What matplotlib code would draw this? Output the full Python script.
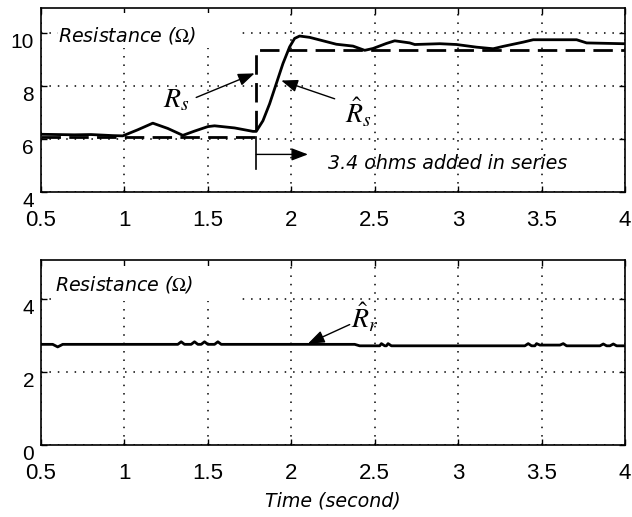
import matplotlib
matplotlib.use("Agg")
import matplotlib.pyplot as plt
from matplotlib.patches import Rectangle

plt.rcParams['font.family'] = ['Liberation Sans', 'DejaVu Sans']
plt.rcParams['mathtext.fontset'] = 'stix'

# estimated stator resistance (solid), top panel
t_est = [0.5, 0.6, 0.7, 0.8, 0.93, 0.99, 1.08, 1.17, 1.26, 1.35, 1.42, 1.5, 1.54,
         1.66, 1.77, 1.79, 1.83, 1.87, 1.91, 1.95, 1.99, 2.02, 2.05, 2.11, 2.19,
         2.27, 2.37, 2.44, 2.49, 2.57, 2.62, 2.71, 2.74, 2.89, 2.99, 3.11, 3.21,
         3.27, 3.39, 3.45, 3.71, 3.77, 3.99, 4.0]
rs_est = [6.18, 6.17, 6.16, 6.17, 6.13, 6.12, 6.35, 6.6, 6.4, 6.14, 6.3, 6.47, 6.5,
          6.42, 6.29, 6.29, 6.69, 7.33, 8.09, 8.85, 9.48, 9.80, 9.89, 9.84, 9.71,
          9.58, 9.51, 9.35, 9.42, 9.61, 9.71, 9.63, 9.57, 9.6, 9.57, 9.47, 9.41,
          9.5, 9.66, 9.75, 9.75, 9.63, 9.6, 9.6]

# actual stator resistance (dashed step)
t_act = [0.5, 1.79, 1.79, 4.0]
rs_act = [6.06, 6.06, 9.38, 9.38]

# estimated rotor resistance, bottom panel
t_rr = [0.5, 0.57, 0.6, 0.63, 1.32, 1.34, 1.36, 1.40, 1.42, 1.44, 1.46, 1.48, 1.50,
        1.54, 1.56, 1.58, 2.38, 2.41, 2.53, 2.54, 2.56, 2.57, 2.58, 2.60, 3.40,
        3.42, 3.44, 3.46, 3.47, 3.49, 3.61, 3.63, 3.65, 3.85, 3.87, 3.89, 3.91,
        3.93, 3.95, 4.0]
rr_est = [2.75, 2.75, 2.68, 2.75, 2.75, 2.82, 2.75, 2.75, 2.82, 2.75, 2.75, 2.82, 2.75,
          2.75, 2.82, 2.75, 2.75, 2.71, 2.71, 2.77, 2.71, 2.71, 2.77, 2.71, 2.71,
          2.77, 2.71, 2.71, 2.77, 2.73, 2.73, 2.77, 2.71, 2.71, 2.76, 2.71, 2.71,
          2.76, 2.71, 2.71]

xticks = [0.5, 1, 1.5, 2, 2.5, 3, 3.5, 4]
xticklabels = ['0.5', '1', '1.5', '2', '2.5', '3', '3.5', '4']
yticks_top = [4, 6, 8, 10]
yticks_bot = [0, 2, 4]

fig = plt.figure(figsize=(6.32, 5.17), dpi=100)
ax1 = fig.add_axes([0.0649, 0.6286, 0.924, 0.356])
ax2 = fig.add_axes([0.0649, 0.139, 0.924, 0.358])

for ax, yt in ((ax1, yticks_top), (ax2, yticks_bot)):
    ax.set_xlim(0.5, 4)
    ax.set_xticks(xticks)
    ax.set_xticklabels(xticklabels)
    ax.set_yticks(yt)
    ax.set_yticklabels([str(v) for v in yt])
    ax.tick_params(direction='in', top=True, right=True, length=4, width=1,
                   labelsize=15, color='k')
    ax.tick_params(axis='x', pad=13, labelsize=16)
    ax.tick_params(axis='y', pad=5)
    for lab in ax.get_yticklabels():
        lab.set_verticalalignment('top')
    for s in ax.spines.values():
        s.set_linewidth(1.2)
    ax.grid(True, color='k', linestyle=(0, (1, 4.5)), linewidth=1.1)
    ax.set_axisbelow(True)

ax1.set_ylim(4, 10.95)
ax2.set_ylim(0, 5.05)

# white patch behind the panel titles (hides grid there)
ax1.add_patch(Rectangle((0.029, 0.78), 0.307, 0.19, transform=ax1.transAxes,
                        fc='white', ec='none', zorder=1))
ax2.add_patch(Rectangle((0.019, 0.78), 0.318, 0.19, transform=ax2.transAxes,
                        fc='white', ec='none', zorder=1))

ax1.plot(t_act, rs_act, color='k', lw=2.0, dashes=(7, 3), zorder=3)
ax1.plot(t_est, rs_est, color='k', lw=2.0, zorder=4)
ax2.plot(t_rr, rr_est, color='k', lw=2.0, zorder=4)

ital = dict(family='DejaVu Sans', style='italic', fontsize=13.7, color='k', zorder=5)
ax1.text(0.6, 9.92, r'Resistance ($\Omega$)', va='center', ha='left', **ital)
ax2.text(0.585, 4.37, r'Resistance ($\Omega$)', va='center', ha='left', **ital)
ax1.text(2.22, 5.06, '3.4 ohms added in series', va='center', ha='left', **ital)
ax2.set_xlabel('Time (second)', family='DejaVu Sans', style='italic',
               fontsize=13.7, labelpad=5)

arr = dict(arrowstyle='-|>,head_length=1.0,head_width=0.38', color='k', lw=1.0,
           shrinkA=0, shrinkB=0)
ax1.annotate('', xy=(1.78, 8.48), xytext=(1.43, 7.57), arrowprops=arr, zorder=6)
ax1.text(1.31, 7.45, r'$R_s$', fontsize=20, ha='center', va='center')
ax1.annotate('', xy=(1.94, 8.21), xytext=(2.26, 7.52), arrowprops=arr, zorder=6)
ax1.text(2.40, 7.0, r'$\hat{R}_s$', fontsize=20, ha='center', va='center')

# marker for the step instant
ax1.plot([1.79, 1.79], [4.86, 6.06], color='k', lw=1.2)
ax1.annotate('', xy=(2.1, 5.42), xytext=(1.79, 5.42), arrowprops=arr)

ax2.annotate('', xy=(2.10, 2.77), xytext=(2.35, 3.29), arrowprops=arr, zorder=6)
ax2.text(2.44, 3.47, r'$\hat{R}_r$', fontsize=20, ha='center', va='center')

fig.savefig('out.png', dpi=100, facecolor='white')
